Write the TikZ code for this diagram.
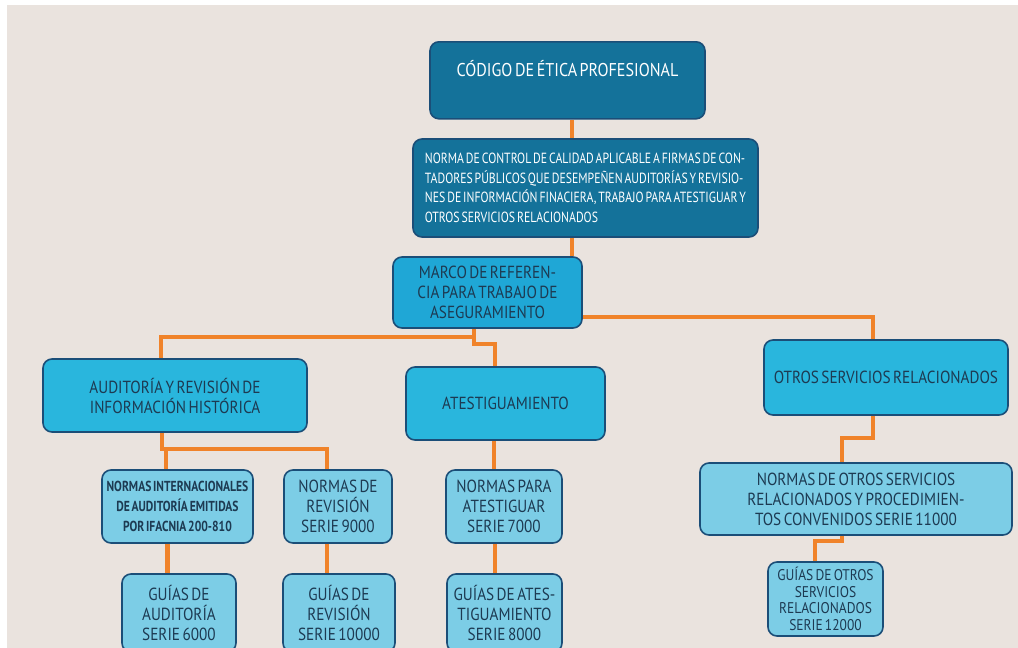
\documentclass[tikz,border=0pt]{standalone}
\usepackage{fontspec}
\setmainfont{PT Sans}[FakeStretch=0.87,WordSpace=0.6]
\newfontfamily\narrowfont{PT Sans}[FakeStretch=0.8,WordSpace=0.6]
\definecolor{bgbeige}{HTML}{EAE3DE}
\definecolor{darkteal}{HTML}{14729A}
\definecolor{midblue}{HTML}{1FA7D6}
\definecolor{cyanbox}{HTML}{29B6DD}
\definecolor{lightblue}{HTML}{7CCDE6}
\definecolor{boxline}{HTML}{1B4E78}
\definecolor{boxtext}{HTML}{1D3A52}
\definecolor{linkorange}{HTML}{F0832A}

\begin{document}
\begin{tikzpicture}[x=1pt,y=-1pt,
    box/.style={draw=boxline,line width=1.6pt,rounded corners=9pt,
      align=center,inner sep=0pt,font=\fontsize{17.5}{20}\selectfont},
    darkbox/.style={box,fill=darkteal,text=white},
    midbox/.style={box,fill=midblue,text=boxtext},
    cyanbox/.style={box,fill=cyanbox,text=boxtext},
    lightbox/.style={box,fill=lightblue,text=boxtext},
    link/.style={draw=linkorange,line width=3.5pt}]

    \useasboundingbox (0,0) rectangle (1018,648);
    \clip (0,0) rectangle (1018,648);
    \fill[white] (0,0) rectangle (1018,648);
    \fill[bgbeige] (7,5) rectangle (1018,648);

    % upper chain
    \node[darkbox,minimum width=275pt,text height=35pt,text depth=42pt,
      font=\fontsize{18.5}{20}\selectfont] (codigo) at (567.5,41) [anchor=north] {CÓDIGO DE ÉTICA PROFESIONAL};
    \node[darkbox,minimum width=345pt,minimum height=98pt,align=left,
      font=\narrowfont\fontsize{14.7}{19.5}\selectfont] (control) at (585.5,188) {NORMA DE CONTROL DE CALIDAD APLICABLE A FIRMAS DE CON-\\TADORES PÚBLICOS QUE DESEMPEÑEN AUDITORÍAS Y REVISIO-\\NES DE INFORMACIÓN FINACIERA, TRABAJO PARA ATESTIGUAR Y\\OTROS SERVICIOS RELACIONADOS};
    \node[midbox,minimum width=189pt,minimum height=71pt] (marco) at (487.5,292.5) {MARCO DE REFEREN-\\CIA PARA TRABAJO DE\\ASEGURAMIENTO};

    % second level
    \node[cyanbox,minimum width=264pt,minimum height=73pt] (auditoria) at (175,395.5) {AUDITORÍA Y REVISIÓN DE\\INFORMACIÓN HISTÓRICA};
    \node[cyanbox,minimum width=199pt,minimum height=73pt] (atestig) at (505.5,403.5) {ATESTIGUAMIENTO};
    \node[cyanbox,minimum width=244pt,minimum height=75pt] (otros) at (886,377.5) {OTROS SERVICIOS RELACIONADOS};

    % norms and guides
    \node[lightbox,minimum width=151pt,minimum height=73pt,
      font=\narrowfont\bfseries\fontsize{14.5}{20}\selectfont] (nia) at (177.5,506.5) {NORMAS INTERNACIONALES\\DE AUDITORÍA EMITIDAS\\POR IFACNIA 200-810};
    \node[lightbox,minimum width=108pt,minimum height=73pt] (normrev) at (338,506.5) {NORMAS DE\\REVISIÓN\\SERIE 9000};
    \node[lightbox,minimum width=116pt,minimum height=73pt] (normates) at (504,506.5) {NORMAS PARA\\ATESTIGUAR\\SERIE 7000};
    \node[lightbox,minimum width=312pt,minimum height=72pt] (normotros) at (856,499) {NORMAS DE OTROS SERVICIOS\\RELACIONADOS Y PROCEDIMIEN-\\TOS CONVENIDOS SERIE 11000};
    \node[lightbox,minimum width=114pt,minimum height=78pt] (guiaaud) at (179,613) {GUÍAS DE\\AUDITORÍA\\SERIE 6000};
    \node[lightbox,minimum width=112pt,minimum height=78pt] (guiarev) at (339,613) {GUÍAS DE\\REVISIÓN\\SERIE 10000};
    \node[lightbox,minimum width=115pt,minimum height=78pt] (guiaates) at (504.5,613) {GUÍAS DE ATES-\\TIGUAMIENTO\\SERIE 8000};
    \node[lightbox,minimum width=115pt,minimum height=74pt,
      font=\fontsize{15.5}{16.5}\selectfont] (guiaotros) at (825.5,599) {GUÍAS DE OTROS\\SERVICIOS\\RELACIONADOS\\SERIE 12000};

    % connectors
    \draw[link] (codigo.south -| 572,0) -- (control.north -| 572,0);
    \draw[link] (control.south -| 572,0) -- (marco.north -| 572,0);
    \draw[link] (marco.south -| 474,0) |- (161,337) -- (auditoria.north -| 161,0);
    \draw[link] (marco.south -| 474,0) -- (474,344) -| (atestig.north -| 495,0);
    \draw[link] (marco.east |- 0,317) -| (otros.north -| 873,0);
    \draw[link] (auditoria.south -| 162,0) |- (327,449) -- (normrev.north -| 327,0);
    \draw[link] (166,449) -- (nia.north -| 166,0);
    \draw[link,line width=5pt] (nia.south -| 167,0) -- (guiaaud.north -| 167,0);
    \draw[link] (normrev.south -| 327,0) -- (guiarev.north -| 327,0);
    \draw[link] (atestig.south -| 494,0) -- (normates.north -| 494,0);
    \draw[link] (normates.south -| 495,0) -- (guiaates.north -| 495,0);
    \draw[link] (otros.south -| 873,0) |- (842,438) -- (normotros.north -| 842,0);
    \draw[link] (normotros.south -| 842,0) |- (815,541) -- (guiaotros.north -| 815,0);
\end{tikzpicture}
\end{document}
